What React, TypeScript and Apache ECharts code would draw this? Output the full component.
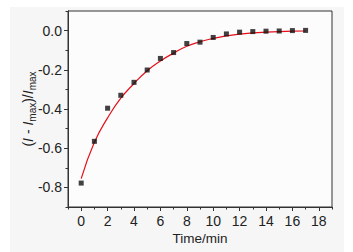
import React, { useEffect, useRef } from "react";
import * as echarts from "echarts";

const times = [0, 1, 2, 3, 4, 5, 6, 7, 8, 9, 10, 11, 12, 13, 14, 15, 16, 17];
const measured = [-0.778, -0.565, -0.396, -0.33, -0.264, -0.201, -0.142, -0.112, -0.066, -0.059, -0.035, -0.017, -0.008, -0.005, -0.003, -0.002, 0.0, 0.001];
const fitCurve = [-0.755, -0.57, -0.445, -0.345, -0.27, -0.205, -0.155, -0.115, -0.08, -0.057, -0.04, -0.027, -0.018, -0.012, -0.008, -0.005, -0.003, -0.002];
const xTicks = [0, 2, 4, 6, 8, 10, 12, 14, 16, 18];
const yTicks = [-0.8, -0.6, -0.4, -0.2, 0.0];

const FONT = "'Liberation Sans', Arial, sans-serif";

export default function App() {
  const ref = useRef<HTMLDivElement>(null);
  useEffect(() => {
    if (!ref.current) return;
    const chart = echarts.init(ref.current, null, { renderer: "svg" });
    const lineStyle = { color: "#333", width: 1 };
    chart.setOption({
      animation: false,
      backgroundColor: "#ffffff",
      graphic: [
        {
          type: "rect",
          z: -10,
          silent: true,
          shape: { x: 10, y: 7, width: 334, height: 245 },
          style: { fill: "#f6f6f6" },
        },
      ],
      grid: {
        left: 68,
        top: 11,
        right: 21,
        bottom: 45,
        show: true,
        backgroundColor: "#fcfcfc",
        borderColor: "#333",
        borderWidth: 1,
      },
      xAxis: [
        {
          type: "value",
          min: -1,
          max: 19,
          axisLine: { show: true, onZero: false, lineStyle },
          splitLine: { show: false },
          axisTick: { show: true, length: 4, inside: false, customValues: xTicks, lineStyle },
          axisLabel: {
            customValues: xTicks,
            margin: 7,
            fontSize: 14,
            fontFamily: FONT,
            color: "#222",
          },
          name: "Time/min",
          nameLocation: "middle",
          nameGap: 24,
          nameMoveOverlap: false,
          nameTextStyle: { fontSize: 13.5, fontFamily: FONT, color: "#222" },
        },
        {
          type: "value",
          min: -1,
          max: 19,
          interval: 1,
          position: "bottom",
          axisLine: { show: true, onZero: false, lineStyle },
          splitLine: { show: false },
          axisLabel: { show: false },
          axisTick: { show: true, length: 2.5, inside: false, lineStyle },
        },
      ],
      yAxis: [
        {
          type: "value",
          min: -0.9,
          max: 0.1,
          axisLine: { show: true, onZero: false, lineStyle },
          splitLine: { show: false },
          axisTick: { show: true, length: 4, customValues: yTicks, lineStyle },
          axisLabel: {
            customValues: yTicks,
            margin: 6,
            fontSize: 14,
            fontFamily: FONT,
            color: "#222",
            formatter: (v: number) => v.toFixed(1),
          },
          name: "{n|(}{i|I}{n| - }{i|I}{s|max}{n|)/}{i|I}{s|max}",
          nameLocation: "middle",
          nameGap: 31,
          nameMoveOverlap: false,
          nameTextStyle: {
            fontSize: 14,
            fontFamily: FONT,
            color: "#222",
            rich: {
              n: { fontSize: 14, fontFamily: FONT, color: "#222", lineHeight: 18, verticalAlign: "middle" },
              i: { fontSize: 14, fontFamily: FONT, color: "#222", fontStyle: "italic", lineHeight: 18, verticalAlign: "middle" },
              s: { fontSize: 10, fontFamily: FONT, color: "#222", lineHeight: 10, verticalAlign: "bottom" },
            },
          },
        },
        {
          type: "value",
          min: -0.9,
          max: 0.1,
          interval: 0.1,
          position: "left",
          axisLine: { show: true, onZero: false, lineStyle },
          splitLine: { show: false },
          axisLabel: { show: false },
          axisTick: { show: true, length: 2.5, inside: false, lineStyle },
        },
      ],
      series: [
        {
          type: "line",
          data: times.map((t, i) => [t, fitCurve[i]]),
          smooth: true,
          showSymbol: false,
          lineStyle: { color: "#e5101a", width: 1.2 },
          z: 2,
        },
        {
          type: "scatter",
          data: times.map((t, i) => [t, measured[i]]),
          symbol: "rect",
          symbolSize: 5,
          itemStyle: { color: "#111" },
          z: 3,
        },
      ],
    });
    return () => chart.dispose();
  }, []);
  return (
    <div
      ref={ref}
      style={{ position: "absolute", left: 0, top: 0, width: 353, height: 252 }}
    />
  );
}
